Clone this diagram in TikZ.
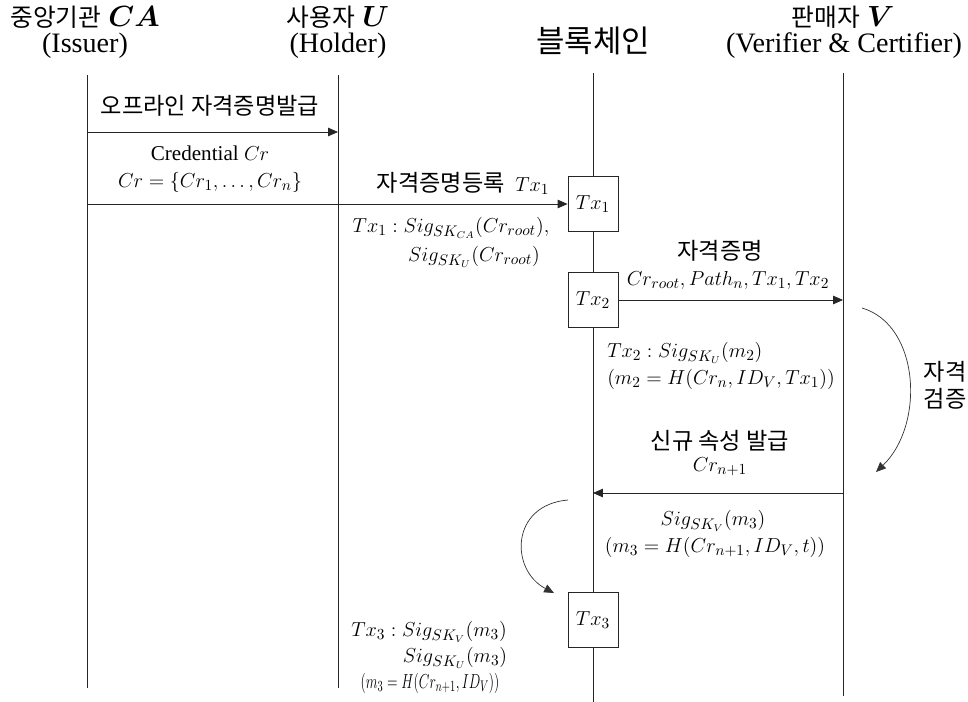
\documentclass[tikz,border=0pt]{standalone}
\usepackage{amsmath}
\usepackage{bm}
\usepackage{graphicx}
\usepackage{fontspec}
\setmainfont{Liberation Serif}
\newfontfamily\kr[Scale=1.1]{Noto Sans CJK KR}
\usetikzlibrary{arrows.meta}
\tikzset{
  lifeline/.style={draw=black!85, line width=0.6pt},
  msg/.style={lifeline, -{Triangle[length=7pt,width=6pt]}},
  bendarrow/.style={draw=black!80, line width=0.5pt, -{Triangle[length=7pt,width=6pt]}},
  txbox/.style={draw=black!85, line width=0.6pt, fill=white, minimum width=1.25cm, minimum height=1.375cm, inner sep=0pt, font=\fontsize{15}{19}\selectfont},
  head/.style={font=\fontsize{20}{24}\selectfont, inner sep=0pt},
  lbl/.style={font=\fontsize{15}{19}\selectfont, inner sep=0pt}
}
\begin{document}
\begin{tikzpicture}[x=0.025cm, y=-0.025cm]
    \useasboundingbox (0,0) rectangle (968,702);
    % headers
    \node[head] (caName) at (85,17) {{\kr\fontsize{16}{20}\selectfont 중앙기관} $\bm{CA}$};
    \node[head] (caRole) at (85,46) {(Issuer)};
    \node[head] (uName) at (338,17) {{\kr\fontsize{16}{20}\selectfont 사용자} $\bm{U}$};
    \node[head] (uRole) at (338,46) {(Holder)};
    \node[head] (bcName) at (593,41) {\kr\fontsize{20}{22}\selectfont 블록체인};
    \node[head] (vName) at (843,17) {{\kr\fontsize{16}{20}\selectfont 판매자} $\bm{V}$};
    \node[head] (vRole) at (844,46) {(Verifier \& Certifier)};
    % lifelines
    \coordinate (caTop) at (87,75);  \coordinate (caBot) at (87,688);
    \coordinate (uTop) at (338,75);  \coordinate (uBot) at (338,688);
    \coordinate (bcTop) at (593,73); \coordinate (bcBot) at (593,702);
    \coordinate (vTop) at (843,73);  \coordinate (vBot) at (843,696);
    \draw[lifeline] (caTop) -- (caBot);
    \draw[lifeline] (uTop) -- (uBot);
    \draw[lifeline] (bcTop) -- (bcBot);
    \draw[lifeline] (vTop) -- (vBot);
    % transactions
    \node[txbox] (tx1) at (593,204) {$Tx_1$};
    \node[txbox] (tx2) at (593,300) {$Tx_2$};
    \node[txbox] (tx3) at (593,620) {$Tx_3$};
    % offline issue
    \node[lbl] (offLbl) at (210,106) {\kr 오프라인 자격증명발급};
    \draw[msg] (caTop |- 0,132) -- (uTop |- 0,132);
    \node[lbl, align=center] (credLbl) at (210,169) {Credential $Cr$\\$Cr=\{Cr_1,\dots,Cr_n\}$};
    % registration
    \node[lbl] (regLbl) at (463,183) {{\kr 자격증명등록}\ \ $Tx_1$};
    \draw[msg] (caTop |- tx1.west) -- (tx1.west);
    \node[lbl] (tx1SigA) at (451,228) {$Tx_1:Sig_{SK_{CA}}(Cr_{root}),$};
    \node[lbl] (tx1SigB) at (474,257) {$Sig_{SK_U}(Cr_{root})$};
    % credential to verifier
    \node[lbl] (certLbl) at (720,251) {\kr 자격증명};
    \node[lbl] (certData) at (728,280) {$Cr_{root},Path_n,Tx_1,Tx_2$};
    \draw[msg] (tx2.east) -- (vTop |- tx2.east);
    \node[lbl, align=left, anchor=west] (tx2Sig) at (607,366) {$Tx_2:Sig_{SK_U}(m_2)$\\$(m_2=H(Cr_n,ID_V,Tx_1))$};
    % verification
    \coordinate (chkS) at (862,308); \coordinate (chkE) at (876,472);
    \draw[bendarrow] (chkS) .. controls (920,325) and (925,425) .. (chkE);
    \node[lbl, align=center] (chkLbl) at (945,385) {\kr 자격\\\kr 검증};
    % new attribute
    \node[lbl] (newLbl) at (720,441) {\kr 신규 속성 발급};
    \node[lbl] (newCr) at (720,467) {$Cr_{n+1}$};
    \draw[msg] (vTop |- 0,493) -- (bcTop |- 0,493);
    \node[lbl] (vSig) at (713,521) {$Sig_{SK_V}(m_3)$};
    \node[lbl] (vHash) at (715,547) {$(m_3=H(Cr_{n+1},ID_V,t))$};
    % record
    \coordinate (recS) at (568,500); \coordinate (recE) at (554,593);
    \draw[bendarrow] (recS) .. controls (510,505) and (510,570) .. (recE);
    \node[lbl] (tx3SigA) at (429,632) {$Tx_3:Sig_{SK_V}(m_3)$};
    \node[lbl] (tx3SigB) at (455,658) {$Sig_{SK_U}(m_3)$};
    \node[lbl] (tx3Hash) at (430,683) {\scalebox{0.68}[1]{$(m_3=H(Cr_{n+1},ID_V))$}};
\end{tikzpicture}
\end{document}
